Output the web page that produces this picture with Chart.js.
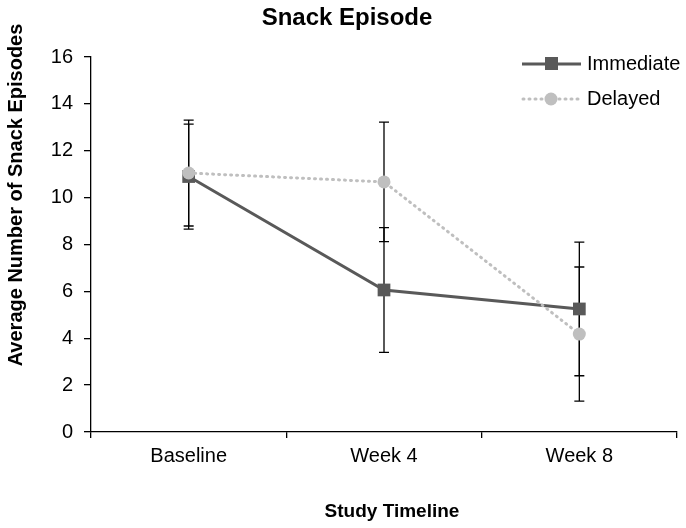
<!DOCTYPE html>
<html>
<head>
<meta charset="utf-8">
<script src="https://cdn.jsdelivr.net/npm/chart.js@4.4.1/dist/chart.umd.min.js"></script>
<style>
  html, body { margin: 0; padding: 0; background: #fff; }
  #wrap { width: 686px; height: 528px; }
</style>
</head>
<body>
<div id="wrap"><canvas id="myChart" width="686" height="528"></canvas></div>
<script>
var labels = ["Baseline", "Week 4", "Week 8"];
var immediateMean = [10.9, 6.06, 5.25];
var immediateErr = [2.24, 2.66, 2.85];
var delayedMean = [11.05, 10.67, 4.18];
var delayedErr = [2.26, 2.55, 2.86];
var yTicks = [0, 2, 4, 6, 8, 10, 12, 14, 16];

var FONT = "'Liberation Sans', Arial, sans-serif";
var darkGray = "#595959";
var lightGray = "#BFBFBF";

// error bars, drawn under the lines and markers
var errorBars = {
  id: "errorBars",
  beforeDatasetsDraw: function(chart) {
    var ctx = chart.ctx;
    var x = chart.scales.x, y = chart.scales.y;
    var sets = [[immediateMean, immediateErr], [delayedMean, delayedErr]];
    ctx.save();
    ctx.strokeStyle = "#000";
    ctx.lineWidth = 1.3;
    sets.forEach(function(s) {
      s[0].forEach(function(m, i) {
        var px = x.getPixelForValue(i);
        var top = y.getPixelForValue(m + s[1][i]);
        var bot = y.getPixelForValue(m - s[1][i]);
        ctx.beginPath();
        ctx.moveTo(px, top); ctx.lineTo(px, bot);
        ctx.moveTo(px - 5, top); ctx.lineTo(px + 5, top);
        ctx.moveTo(px - 5, bot); ctx.lineTo(px + 5, bot);
        ctx.stroke();
      });
    });
    ctx.restore();
  }
};

// titles and legend
var extras = {
  id: "extras",
  afterDraw: function(chart) {
    var ctx = chart.ctx;
    ctx.save();
    ctx.fillStyle = "#000";
    ctx.textAlign = "center";
    ctx.textBaseline = "alphabetic";
    ctx.font = "bold 24px " + FONT;
    ctx.fillText("Snack Episode", 347, 25);
    ctx.font = "bold 19px " + FONT;
    ctx.fillText("Study Timeline", 392, 517);
    ctx.save();
    ctx.translate(22, 195);
    ctx.rotate(-Math.PI / 2);
    ctx.font = "bold 20px " + FONT;
    ctx.fillText("Average Number of Snack Episodes", 0, 0);
    ctx.restore();

    // legend
    ctx.textAlign = "left";
    ctx.textBaseline = "middle";
    ctx.font = "20px " + FONT;
    ctx.lineWidth = 3;
    ctx.strokeStyle = darkGray;
    ctx.beginPath(); ctx.moveTo(522, 64); ctx.lineTo(581, 64); ctx.stroke();
    ctx.fillStyle = darkGray;
    ctx.fillRect(545, 57, 13, 13);
    ctx.fillStyle = "#000";
    ctx.fillText("Immediate", 587, 64);

    ctx.strokeStyle = lightGray;
    ctx.lineCap = "round";
    ctx.setLineDash([1, 5]);
    ctx.beginPath(); ctx.moveTo(523, 99); ctx.lineTo(581, 99); ctx.stroke();
    ctx.setLineDash([]);
    ctx.fillStyle = lightGray;
    ctx.beginPath(); ctx.arc(551, 99, 6.5, 0, Math.PI * 2); ctx.fill();
    ctx.fillStyle = "#000";
    ctx.fillText("Delayed", 587, 99);
    ctx.restore();
  }
};

new Chart("myChart", {
  type: "line",
  data: {
    labels: labels,
    datasets: [{
      label: "Immediate",
      data: immediateMean,
      borderColor: darkGray,
      backgroundColor: darkGray,
      borderWidth: 3,
      pointStyle: "rect",
      pointRadius: 9,
      pointBorderWidth: 0,
      order: 1
    }, {
      label: "Delayed",
      data: delayedMean,
      borderColor: lightGray,
      backgroundColor: lightGray,
      borderWidth: 3,
      borderDash: [1, 5],
      borderCapStyle: "round",
      pointStyle: "circle",
      pointRadius: 6.5,
      pointBorderWidth: 0,
      order: 0
    }]
  },
  options: {
    responsive: false,
    animation: false,
    layout: { padding: { top: 57, right: 8, bottom: 0, left: 0 } },
    plugins: {
      legend: { display: false },
      tooltip: { enabled: false },
      title: { display: false }
    },
    scales: {
      x: {
        offset: true,
        grid: { offset: true, drawOnChartArea: false, drawTicks: true, tickLength: 6, color: "#000", lineWidth: 1.3 },
        border: { display: true, color: "#000", width: 1.3 },
        ticks: { color: "#000", font: { family: FONT, size: 20 }, padding: 6, maxRotation: 0 },
        afterFit: function(s) { s.height = 96; }
      },
      y: {
        min: 0, max: 16,
        afterBuildTicks: function(s) { s.ticks = yTicks.map(function(v) { return { value: v }; }); },
        grid: { drawOnChartArea: false, drawTicks: true, tickLength: 7, color: "#000", lineWidth: 1.3 },
        border: { display: true, color: "#000", width: 1.3 },
        ticks: { color: "#000", font: { family: FONT, size: 20 }, padding: 11 },
        afterFit: function(s) { s.width = 91; }
      }
    }
  },
  plugins: [errorBars, extras]
});
</script>
</body>
</html>
